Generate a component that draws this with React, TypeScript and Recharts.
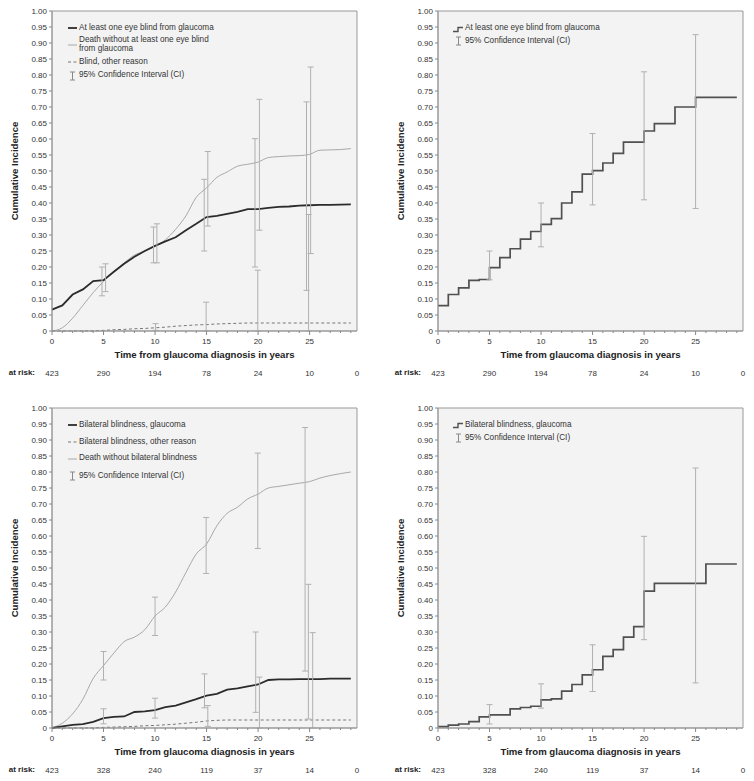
import React from "react";
import {
  ComposedChart,
  Line,
  Scatter,
  ErrorBar,
  XAxis,
  YAxis,
  CartesianGrid,
  ReferenceArea,
  Legend,
  Label,
} from "recharts";

const FONT = "'Liberation Sans', Arial, Helvetica, sans-serif";
const X_MAX = 29.6;

// yearly ticks on the time axis, labels only on multiples of 5
const xTicks = [0, 1, 2, 3, 4, 5, 6, 7, 8, 9, 10, 11, 12, 13, 14, 15, 16, 17, 18, 19, 20, 21, 22, 23, 24, 25, 26, 27, 28, 29];
const yTicks = [0, 0.05, 0.1, 0.15, 0.2, 0.25, 0.3, 0.35, 0.4, 0.45, 0.5, 0.55, 0.6, 0.65, 0.7, 0.75, 0.8, 0.85, 0.9, 0.95, 1];
const riskTicks = [0, 5, 10, 15, 20, 25, X_MAX];

const atRiskOneEye = [423, 290, 194, 78, 24, 10, 0];
const atRiskBilateral = [423, 328, 240, 119, 37, 14, 0];

// values at years 0..29
const oneEyeGlaucoma = [0.067, 0.08, 0.114, 0.13, 0.156, 0.159, 0.185, 0.21, 0.232, 0.25, 0.266, 0.28, 0.293, 0.315, 0.335, 0.356, 0.36, 0.366, 0.372, 0.381, 0.381, 0.385, 0.388, 0.389, 0.392, 0.393, 0.394, 0.394, 0.395, 0.396];
const oneEyeDeath = [0, 0.01, 0.04, 0.08, 0.12, 0.155, 0.185, 0.213, 0.237, 0.25, 0.265, 0.285, 0.318, 0.36, 0.418, 0.447, 0.48, 0.497, 0.515, 0.521, 0.528, 0.542, 0.545, 0.547, 0.548, 0.552, 0.565, 0.566, 0.567, 0.57];
const oneEyeOther = [0, 0, 0, 0, 0, 0.002, 0.004, 0.005, 0.007, 0.008, 0.01, 0.012, 0.015, 0.017, 0.019, 0.02, 0.022, 0.023, 0.024, 0.025, 0.025, 0.025, 0.025, 0.025, 0.025, 0.025, 0.025, 0.025, 0.025, 0.025];
const oneEyeCI = [
  { x: 4.85, lo: 0.11, hi: 0.2 },
  { x: 5.2, lo: 0.123, hi: 0.21 },
  { x: 9.85, lo: 0.213, hi: 0.325 },
  { x: 10.18, lo: 0.213, hi: 0.335 },
  { x: 10.05, lo: 0.002, hi: 0.023 },
  { x: 14.77, lo: 0.25, hi: 0.474 },
  { x: 15.12, lo: 0.328, hi: 0.561 },
  { x: 14.96, lo: 0, hi: 0.09 },
  { x: 19.7, lo: 0.2, hi: 0.601 },
  { x: 20.13, lo: 0.315, hi: 0.724 },
  { x: 19.97, lo: 0, hi: 0.19 },
  { x: 24.7, lo: 0.127, hi: 0.716 },
  { x: 25.1, lo: 0.242, hi: 0.825 },
  { x: 24.9, lo: 0, hi: 0.364 },
];

// step values, each holding from year i to i+1
const oneEyeStep = [0.079, 0.114, 0.135, 0.158, 0.161, 0.198, 0.229, 0.257, 0.287, 0.311, 0.333, 0.351, 0.4, 0.435, 0.49, 0.501, 0.525, 0.555, 0.59, 0.59, 0.625, 0.648, 0.648, 0.7, 0.7, 0.73, 0.73, 0.73, 0.73, 0.73];
const oneEyeStepCI = [
  { x: 5, lo: 0.16, hi: 0.25 },
  { x: 10, lo: 0.263, hi: 0.4 },
  { x: 15, lo: 0.394, hi: 0.617 },
  { x: 20, lo: 0.41, hi: 0.81 },
  { x: 25, lo: 0.383, hi: 0.926 },
];

const bilatGlaucoma = [0, 0.005, 0.01, 0.012, 0.019, 0.031, 0.035, 0.036, 0.05, 0.052, 0.056, 0.065, 0.07, 0.08, 0.09, 0.101, 0.107, 0.12, 0.124, 0.13, 0.136, 0.15, 0.152, 0.152, 0.153, 0.153, 0.153, 0.154, 0.154, 0.154];
const bilatDeath = [0, 0.015, 0.044, 0.09, 0.155, 0.195, 0.234, 0.27, 0.284, 0.307, 0.35, 0.378, 0.425, 0.486, 0.544, 0.575, 0.632, 0.671, 0.69, 0.716, 0.731, 0.75, 0.755, 0.76, 0.765, 0.77, 0.781, 0.789, 0.795, 0.8];
const bilatOther = [0, 0, 0, 0, 0, 0.002, 0.003, 0.004, 0.005, 0.007, 0.008, 0.01, 0.012, 0.015, 0.018, 0.022, 0.024, 0.025, 0.025, 0.025, 0.025, 0.025, 0.025, 0.025, 0.025, 0.025, 0.025, 0.025, 0.025, 0.025];
const bilatCI = [
  { x: 5, lo: 0.15, hi: 0.239 },
  { x: 5, lo: 0.013, hi: 0.06 },
  { x: 10, lo: 0.289, hi: 0.409 },
  { x: 10, lo: 0.031, hi: 0.093 },
  { x: 14.8, lo: 0.063, hi: 0.169 },
  { x: 15.12, lo: 0.005, hi: 0.07 },
  { x: 14.96, lo: 0.483, hi: 0.658 },
  { x: 19.77, lo: 0.049, hi: 0.3 },
  { x: 20.13, lo: 0, hi: 0.159 },
  { x: 19.97, lo: 0.561, hi: 0.859 },
  { x: 24.56, lo: 0.178, hi: 0.939 },
  { x: 24.88, lo: 0.028, hi: 0.449 },
  { x: 25.3, lo: 0, hi: 0.298 },
];

const bilatStep = [0.004, 0.009, 0.0125, 0.02, 0.035, 0.041, 0.041, 0.06, 0.064, 0.068, 0.088, 0.091, 0.115, 0.136, 0.166, 0.182, 0.224, 0.245, 0.284, 0.317, 0.428, 0.452, 0.452, 0.452, 0.452, 0.452, 0.5125, 0.5125, 0.5125, 0.5125];
const bilatStepCI = [
  { x: 5, lo: 0.0125, hi: 0.073 },
  { x: 10, lo: 0.062, hi: 0.138 },
  { x: 15, lo: 0.114, hi: 0.26 },
  { x: 20, lo: 0.276, hi: 0.599 },
  { x: 25, lo: 0.141, hi: 0.8125 },
];

const DARK = "#2b2b2b";
const STEP = "#505050";
const LIGHT = "#a8a8a8";
const DASH = "#777";
const CI = "#b0b0b0";

type Series = { vals: number[]; stroke: string; width: number; dash?: string; type: "linear" | "monotone" | "stepAfter" };
type Item = { icon: "solid" | "light" | "dash" | "step" | "ci"; lines: string[] };

const toPts = (vals: number[]) => vals.map((y, i) => ({ x: xTicks[i], y }));
const toBars = (ci: { x: number; lo: number; hi: number }[]) =>
  ci.map((c) => ({ x: c.x, y: c.lo, err: [0, c.hi - c.lo] }));
// invisible anchor points so the at-risk axis has something to scale
const riskAnchor = riskTicks.map((x) => ({ x, y: 0 }));

function YearTick({ x, y, payload }: any) {
  const major = payload.value % 5 === 0;
  return (
    <g>
      <line x1={x} x2={x} y1={y} y2={y + (major ? 4 : 2)} stroke="#888" />
      {major && (
        <text x={x} y={y + 7} dy="0.71em" textAnchor="middle" fontSize={8} fill="#333" fontFamily={FONT}>
          {payload.value}
        </text>
      )}
    </g>
  );
}

function Icon({ kind }: { kind: Item["icon"] }) {
  if (kind === "ci")
    return (
      <svg width={11} height={10} style={{ flex: "none" }}>
        <path d="M3 1 H8 M5.5 1 V9 M3 9 H8" stroke="#888" fill="none" />
      </svg>
    );
  if (kind === "step")
    return (
      <svg width={11} height={8} style={{ flex: "none" }}>
        <path d="M0 6.5 H5 V2.5 H10" stroke={STEP} strokeWidth={1.4} fill="none" />
      </svg>
    );
  const stroke = kind === "solid" ? DARK : kind === "light" ? LIGHT : DASH;
  return (
    <svg width={11} height={8} style={{ flex: "none" }}>
      <line x1={1} x2={10} y1={4} y2={4} stroke={stroke} strokeWidth={kind === "solid" ? 1.8 : 1} strokeDasharray={kind === "dash" ? "3 2.5" : undefined} />
    </svg>
  );
}

function LegendBox({ items, gap }: { items: Item[]; gap: number }) {
  return (
    <div style={{ fontFamily: FONT, fontSize: 8.2, color: "#333", lineHeight: "8.6px" }}>
      {items.map((it, i) => (
        <div key={i} style={{ display: "flex", alignItems: "center", marginBottom: gap }}>
          <Icon kind={it.icon} />
          <div style={{ marginLeft: 1, whiteSpace: "nowrap" }}>
            {it.lines.map((l, j) => (
              <div key={j}>{l}</div>
            ))}
          </div>
        </div>
      ))}
    </div>
  );
}

type PanelProps = {
  left: number;
  top: number;
  series: Series[];
  ci: { x: number; lo: number; hi: number }[];
  legend: Item[];
  legendGap: number;
  legendTop: number;
  atRisk: number[];
};

function Panel({ left, top, series, ci, legend, legendGap, legendTop, atRisk }: PanelProps) {
  return (
    <div style={{ position: "absolute", left, top }}>
      <ComposedChart width={377} height={390} margin={{ top: 11, right: 20, bottom: 5, left: 0 }}>
        <CartesianGrid horizontal={false} vertical={false} fill="#f3f3f3" />
        <XAxis
          dataKey="x"
          type="number"
          domain={[0, X_MAX]}
          ticks={xTicks}
          interval={0}
          tick={<YearTick />}
          tickLine={false}
          tickSize={0}
          tickMargin={0}
          axisLine={{ stroke: "#999" }}
          height={30}
        >
          <Label
            value="Time from glaucoma diagnosis in years"
            position="insideBottom"
            offset={3}
            style={{ fontFamily: FONT, fontSize: 9.6, fontWeight: "bold", fill: "#222" }}
          />
        </XAxis>
        <XAxis
          xAxisId="risk"
          dataKey="x"
          type="number"
          domain={[0, X_MAX]}
          ticks={riskTicks}
          interval={0}
          tickFormatter={(v: number) => String(atRisk[riskTicks.indexOf(v)])}
          axisLine={false}
          tickLine={false}
          tickSize={0}
          tickMargin={9}
          height={24}
          tick={{ fontSize: 8, fill: "#333", fontFamily: FONT }}
        >
          <Label
            value="at risk:"
            position="left"
            offset={17}
            dy={-1}
            style={{ fontFamily: FONT, fontSize: 8, fontWeight: "bold", fill: "#222" }}
          />
        </XAxis>
        <YAxis
          dataKey="y"
          type="number"
          domain={[0, 1]}
          ticks={yTicks}
          interval={0}
          tickFormatter={(v: number) => (v === 0 ? "0" : v.toFixed(2))}
          width={52}
          tickSize={3}
          tickMargin={2}
          axisLine={{ stroke: "#999" }}
          tickLine={{ stroke: "#888" }}
          tick={{ fontSize: 8, fill: "#333", fontFamily: FONT }}
        >
          <Label
            value="Cumulative Incidence"
            angle={-90}
            position="insideLeft"
            offset={15}
            style={{ textAnchor: "middle", fontFamily: FONT, fontSize: 9.6, fontWeight: "bold", fill: "#222" }}
          />
        </YAxis>
        <ReferenceArea x1={0} x2={X_MAX} y1={0} y2={1} fill="none" stroke="#999" />
        <Legend
          layout="horizontal"
          verticalAlign="middle"
          align="center"
          wrapperStyle={{ left: 67, top: legendTop, width: "auto", height: "auto" }}
          content={() => <LegendBox items={legend} gap={legendGap} />}
        />
        <Line
          xAxisId="risk"
          data={riskAnchor}
          dataKey="y"
          stroke="none"
          dot={false}
          activeDot={false}
          legendType="none"
          isAnimationActive={false}
        />
        {series.map((s, i) => (
          <Line
            key={i}
            data={toPts(s.vals)}
            dataKey="y"
            type={s.type}
            stroke={s.stroke}
            strokeWidth={s.width}
            strokeDasharray={s.dash}
            dot={false}
            activeDot={false}
            isAnimationActive={false}
          />
        ))}
        <Scatter data={toBars(ci)} dataKey="y" shape={() => <g />} isAnimationActive={false}>
          <ErrorBar dataKey="err" direction="y" width={3} stroke={CI} strokeWidth={1} isAnimationActive={false} />
        </Scatter>
      </ComposedChart>
    </div>
  );
}

const ciItem: Item = { icon: "ci", lines: ["95% Confidence Interval (CI)"] };

export default function App() {
  return (
    <div style={{ position: "absolute", left: 0, top: 0, width: 754, height: 781, background: "#fff", fontFamily: FONT }}>
      <Panel
        left={0}
        top={0}
        series={[
          { vals: oneEyeDeath, stroke: LIGHT, width: 1, type: "monotone" },
          { vals: oneEyeOther, stroke: DASH, width: 1, dash: "3 2.5", type: "linear" },
          { vals: oneEyeGlaucoma, stroke: DARK, width: 1.8, type: "linear" },
        ]}
        ci={oneEyeCI}
        legend={[
          { icon: "solid", lines: ["At least one eye blind from glaucoma"] },
          { icon: "light", lines: ["Death without at least one eye blind", "from glaucoma"] },
          { icon: "dash", lines: ["Blind, other reason"] },
          ciItem,
        ]}
        legendGap={4.3}
        legendTop={23.5}
        atRisk={atRiskOneEye}
      />
      <Panel
        left={386}
        top={0}
        series={[{ vals: oneEyeStep, stroke: STEP, width: 1.7, type: "stepAfter" }]}
        ci={oneEyeStepCI}
        legend={[{ icon: "step", lines: ["At least one eye blind from glaucoma"] }, ciItem]}
        legendGap={3.5}
        legendTop={24.3}
        atRisk={atRiskOneEye}
      />
      <Panel
        left={0}
        top={397}
        series={[
          { vals: bilatDeath, stroke: LIGHT, width: 1, type: "monotone" },
          { vals: bilatOther, stroke: DASH, width: 1, dash: "3 2.5", type: "linear" },
          { vals: bilatGlaucoma, stroke: DARK, width: 1.8, type: "linear" },
        ]}
        ci={bilatCI}
        legend={[
          { icon: "solid", lines: ["Bilateral blindness, glaucoma"] },
          { icon: "dash", lines: ["Bilateral blindness, other reason"] },
          { icon: "light", lines: ["Death without bilateral blindness"] },
          ciItem,
        ]}
        legendGap={8.2}
        legendTop={23.8}
        atRisk={atRiskBilateral}
      />
      <Panel
        left={386}
        top={397}
        series={[{ vals: bilatStep, stroke: STEP, width: 1.7, type: "stepAfter" }]}
        ci={bilatStepCI}
        legend={[{ icon: "step", lines: ["Bilateral blindness, glaucoma"] }, ciItem]}
        legendGap={3.5}
        legendTop={23.8}
        atRisk={atRiskBilateral}
      />
    </div>
  );
}
